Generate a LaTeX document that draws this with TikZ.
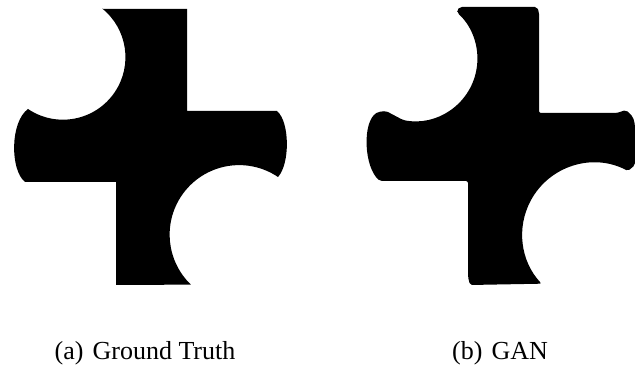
\documentclass[tikz,border=0pt]{standalone}
\usepackage{fontspec}
\setmainfont{Liberation Serif}
\usetikzlibrary{positioning}

\begin{document}
\begin{tikzpicture}[
    x=1pt, y=1pt,
    blob/.style={fill=black, draw=none},
    caption/.style={font=\fontsize{26}{30}\selectfont, anchor=base, inner sep=0pt}
]
\useasboundingbox (0,0) rectangle (635,367);

% Ground truth shape (left)
\fill[blob] (102,358) -- (187,358) -- (187,256) -- (277,256)
    .. controls (290,245) and (290,203) .. (278,190)
    arc[start angle=56, end angle=226, radius=69.5]
    -- (116,82) -- (116,185) -- (25,185)
    .. controls (10,197) and (10,245) .. (28,258)
    arc[start angle=236, end angle=411, radius=62.5] -- cycle;

% GAN shape (right)
\fill[blob, rounded corners=2pt] (460,360) -- (537,360) -- (539,355)
    -- (539,254) -- (617,254) -- (626,257) -- (633,250) -- (635,242)
    -- (635,202) -- (628,196)
    arc[start angle=62, end angle=223, radius=72]
    -- (470,82) -- (468,90) -- (468,186) -- (380,186)
    .. controls (364,200) and (362,245) .. (378,255)
    -- (386,256) -- (403,247)
    arc[start angle=259, end angle=407, radius=62.5]
    -- (457,357) -- cycle;

% Captions
\node[caption] (capA) at (145,7) {(a)\hspace{0.35em}Ground Truth};
\node[caption] (capB) at (500,7) {(b)\hspace{0.35em}GAN};

\end{tikzpicture}
\end{document}
